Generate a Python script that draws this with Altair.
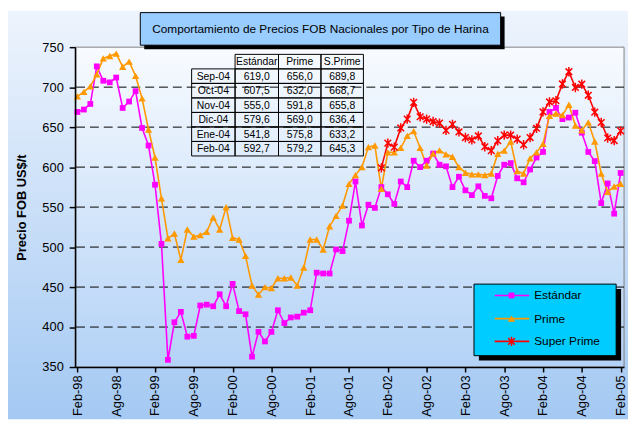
import json
import altair as alt
import pandas as pd

# ---------------- data ----------------
TITULO = "Comportamiento de Precios FOB Nacionales por Tipo de Harina"
EJE_Y = "Precio FOB US$/t"

MES_ABR = ["Ene", "Feb", "Mar", "Abr", "May", "Jun", "Jul", "Ago", "Sep", "Oct", "Nov", "Dic"]
# monthly categories Feb-98 ... Feb-05
MESES = [f"{MES_ABR[(1 + k) % 12]}-{(98 + (1 + k) // 12) % 100:02d}" for k in range(85)]

ETIQUETAS_X = ["Feb-98", "Ago-98", "Feb-99", "Ago-99", "Feb-00", "Ago-00", "Feb-01", "Ago-01",
               "Feb-02", "Ago-02", "Feb-03", "Ago-03", "Feb-04", "Ago-04", "Feb-05"]
VALORES_Y = [350, 400, 450, 500, 550, 600, 650, 700, 750]
GRID_Y = [400, 450, 500, 550, 600, 650, 700]

ESTANDAR = [669, 672, 679, 726, 708, 706, 712, 674, 682, 695,
            649, 627, 578, 504, 359, 406, 419, 388, 389, 427,
            428, 426, 441, 426, 454, 420, 416, 363, 394, 382,
            394, 421, 405, 412, 413, 418, 421, 468, 467, 467,
            497, 495, 533, 582, 527, 553, 549, 575, 566, 554,
            582, 575, 608, 600, 608, 617, 603, 601, 575, 588,
            571, 565, 576, 564, 561, 589, 603, 605, 586, 581,
            597, 612, 619, 669, 674, 660, 662, 668, 643, 619.0,
            607.5, 555.0, 579.6, 541.8, 592.7]
PRIME = [688.5, 694, 701, 716, 736, 739, 742, 725.5, 732, 714,
         686, 647, 612, 561, 511, 517, 484, 522, 513, 515,
         519, 537, 522, 550, 511.5, 509.5, 489, 452, 440.5, 450,
         448.6, 461, 461, 462, 452, 474.5, 509.5, 509.5, 497, 526,
         539, 552, 579, 590, 600, 625, 627, 573, 618.5, 618.5,
         624, 639, 645, 624, 602, 617, 621, 616, 613, 600,
         593, 591, 591, 590, 592, 616.5, 620.6, 632, 595, 592,
         611, 618.5, 629, 664, 667, 665, 678, 652, 646, 656.0,
         632.0, 591.8, 569.0, 575.8, 579.2]
SUPER_PRIME_DESDE = "Ene-02"
SUPER_PRIME = [599, 630, 625, 649, 660, 681, 663, 660, 657, 655,
               646, 653.5, 644, 637, 634, 639, 625.5, 620.6, 633, 640,
               640, 635, 628, 637, 648.6, 669, 681.5, 683, 704, 719.3,
               699.6, 703.7, 689.8, 668.7, 655.8, 636.4, 633.2, 645.3]

SERIES = ["Estándar", "Prime", "Super Prime"]
COLORES = ["#FF00FF", "#FF9900", "#FF0000"]

TABLA_MESES = ["Sep-04", "Oct-04", "Nov-04", "Dic-04", "Ene-04", "Feb-04"]
TABLA_COLS = ["Estándar", "Prime", "S.Prime"]
TABLA_EST = [619.0, 607.5, 555.0, 579.6, 541.8, 592.7]
TABLA_PRI = [656.0, 632.0, 591.8, 569.0, 575.8, 579.2]
TABLA_SP = [689.8, 668.7, 655.8, 636.4, 633.2, 645.3]

# ---------------- layout ----------------
W, H = 556, 324
PAD = {"left": 68, "top": 37, "right": 4, "bottom": 53}
FONT = "Liberation Sans"
STAR = "M0,-1L0,1M-0.71,-0.71L0.71,0.71M-0.71,0.71L0.71,-0.71"
XDOM = [-0.35, 84.53]
YDOM = [350, 750]


def ix(px):  # pixel in plot -> x data units
    return XDOM[0] + px / W * (XDOM[1] - XDOM[0])


def iy(py):  # pixel in plot -> y data units
    return YDOM[1] - py / H * (YDOM[1] - YDOM[0])


rows = []
for i, m in enumerate(MESES):
    rows.append({"i": i, "mes": m, "serie": "Estándar", "valor": ESTANDAR[i]})
    rows.append({"i": i, "mes": m, "serie": "Prime", "valor": PRIME[i]})
start = MESES.index(SUPER_PRIME_DESDE)
for k, v in enumerate(SUPER_PRIME):
    rows.append({"i": start + k, "mes": MESES[start + k], "serie": "Super Prime", "valor": v})
df = pd.DataFrame(rows)

xscale = alt.Scale(domain=XDOM, nice=False, zero=False)
yscale = alt.Scale(domain=YDOM, nice=False, zero=False)
cscale = alt.Scale(domain=SERIES, range=COLORES)

xaxis = alt.Axis(values=list(range(0, 85, 6)),
                 labelExpr=f"{json.dumps(ETIQUETAS_X)}[round(datum.value / 6)]",
                 title=None, grid=False, labelAngle=270, labelFontSize=13,
                 tickSize=5, tickWidth=1.5, domainWidth=1.5, labelPadding=3, zindex=1)
yaxis = alt.Axis(values=VALORES_Y, title=EJE_Y, titleFontSize=13, titleFontWeight="bold",
                 grid=False, labelFontSize=13, tickSize=6, tickWidth=1.5, domainWidth=1.5,
                 labelPadding=6, titlePadding=14, zindex=1)


def X(field):
    return alt.X(field, scale=xscale, axis=xaxis)


def Y(field):
    return alt.Y(field, scale=yscale, axis=yaxis)


def one():
    return alt.Chart(pd.DataFrame({"k": [0]}))


def grad(c0, c1):
    return alt.LinearGradient(gradient="linear",
                              stops=[alt.GradientStop(color=c0, offset=0),
                                     alt.GradientStop(color=c1, offset=1)],
                              x1=0, x2=0, y1=0, y2=1)


def box(x0, x1, y0, y1, **kw):
    return one().mark_rect(**kw).encode(x=alt.value(x0), x2=alt.value(x1),
                                        y=alt.value(y0), y2=alt.value(y1))


layers = []
# full background
layers.append(box(-PAD["left"], W + PAD["right"], -PAD["top"], H + PAD["bottom"],
                  color=grad("#EEF4FD", "#A4C9F3")))
# plot area
layers.append(box(0, W, 0, H, color=grad("#F8FBFF", "#B3D2F6"), stroke="#808080", strokeWidth=1))
# title box
layers.append(box(70, 435, -31, 2, color="#000000"))
layers.append(box(66, 431, -35, -2, color="#99CCFF", stroke="#000000", strokeWidth=1))
layers.append(one().mark_text(text=TITULO, font=FONT, fontSize=12, align="center",
                              baseline="middle", color="#000000")
              .encode(x=alt.value(248.5), y=alt.value(-18.5)))

# table
COLX = [118, 162, 206, 249, 292]
TOP, RH = 7.3, 14.7
cells = []
for c in range(3):
    cells.append({"x": COLX[c + 1], "x2": COLX[c + 2], "y": TOP, "y2": TOP + RH, "t": TABLA_COLS[c]})
fmt = lambda v: f"{v:.1f}".replace(".", ",")
for r in range(6):
    vals = [TABLA_MESES[r], fmt(TABLA_EST[r]), fmt(TABLA_PRI[r]), fmt(TABLA_SP[r])]
    for c in range(4):
        cells.append({"x": COLX[c], "x2": COLX[c + 1], "y": TOP + RH * (r + 1),
                      "y2": TOP + RH * (r + 2), "t": vals[c]})
cdf = pd.DataFrame(cells)
cdf["xm"] = ((cdf["x"] + cdf["x2"]) / 2).map(ix)
cdf["ym"] = ((cdf["y"] + cdf["y2"]) / 2 + 0.5).map(iy)
for col in ["x", "x2"]:
    cdf[col] = cdf[col].map(ix)
for col in ["y", "y2"]:
    cdf[col] = cdf[col].map(iy)
layers.append(alt.Chart(cdf).mark_rect(fillOpacity=0, stroke="#000000", strokeWidth=1).encode(
    x=X("x:Q"), x2="x2:Q", y=Y("y:Q"), y2="y2:Q"))
layers.append(alt.Chart(cdf).mark_text(font=FONT, fontSize=10.5, align="center", baseline="middle",
                                       color="#000000").encode(
    x=X("xm:Q"), y=Y("ym:Q"), text="t:N"))

# gridlines
layers.append(alt.Chart(pd.DataFrame({"valor": GRID_Y})).mark_rule(
    color="#000000", strokeWidth=1, strokeDash=[9, 5]).encode(y=Y("valor:Q")))

# data lines
layers.append(alt.Chart(df).mark_line(strokeWidth=1.6).encode(
    x=X("i:Q"), y=Y("valor:Q"),
    color=alt.Color("serie:N", scale=cscale, legend=None),
    order="i:Q"))


def marker_chart(serie, chart):
    if serie == "Estándar":
        return chart.mark_square(size=34, color=COLORES[0], opacity=1)
    if serie == "Prime":
        return chart.mark_point(shape="triangle-up", size=55, filled=True, color=COLORES[1], opacity=1)
    return chart.mark_point(shape=STAR, size=90, filled=False, color=COLORES[2],
                            strokeWidth=1.5, opacity=1)


for s in SERIES:
    layers.append(marker_chart(s, alt.Chart(df).transform_filter(alt.datum.serie == s)).encode(
        x=X("i:Q"), y=Y("valor:Q")))

# legend
layers.append(box(409, 553, 245, 317.5, color="#000000"))
layers.append(box(404, 548, 240, 312.5, color="#00CCFF", stroke="#000000", strokeWidth=1))
LEG_Y = [251.5, 275, 298]
for s, col, ly in zip(SERIES, COLORES, LEG_Y):
    layers.append(one().mark_rule(color=col, strokeWidth=1.6).encode(
        x=alt.value(425), x2=alt.value(460), y=alt.value(ly)))
    layers.append(marker_chart(s, one()).encode(x=alt.value(442), y=alt.value(ly)))
    layers.append(one().mark_text(text=s, font=FONT, fontSize=12, align="left", baseline="middle",
                                  color="#000000").encode(x=alt.value(465), y=alt.value(ly)))

chart = alt.layer(*layers).properties(
    width=W, height=H, autosize=alt.AutoSizeParams(type="none"), padding=PAD
).configure(font=FONT).configure_view(stroke=None).configure_axis(
    labelFont=FONT, titleFont=FONT, labelColor="#000000", titleColor="#000000",
    tickColor="#000000", domainColor="#000000")

chart.save("out.html", embed_options={"renderer": "svg", "actions": False})
